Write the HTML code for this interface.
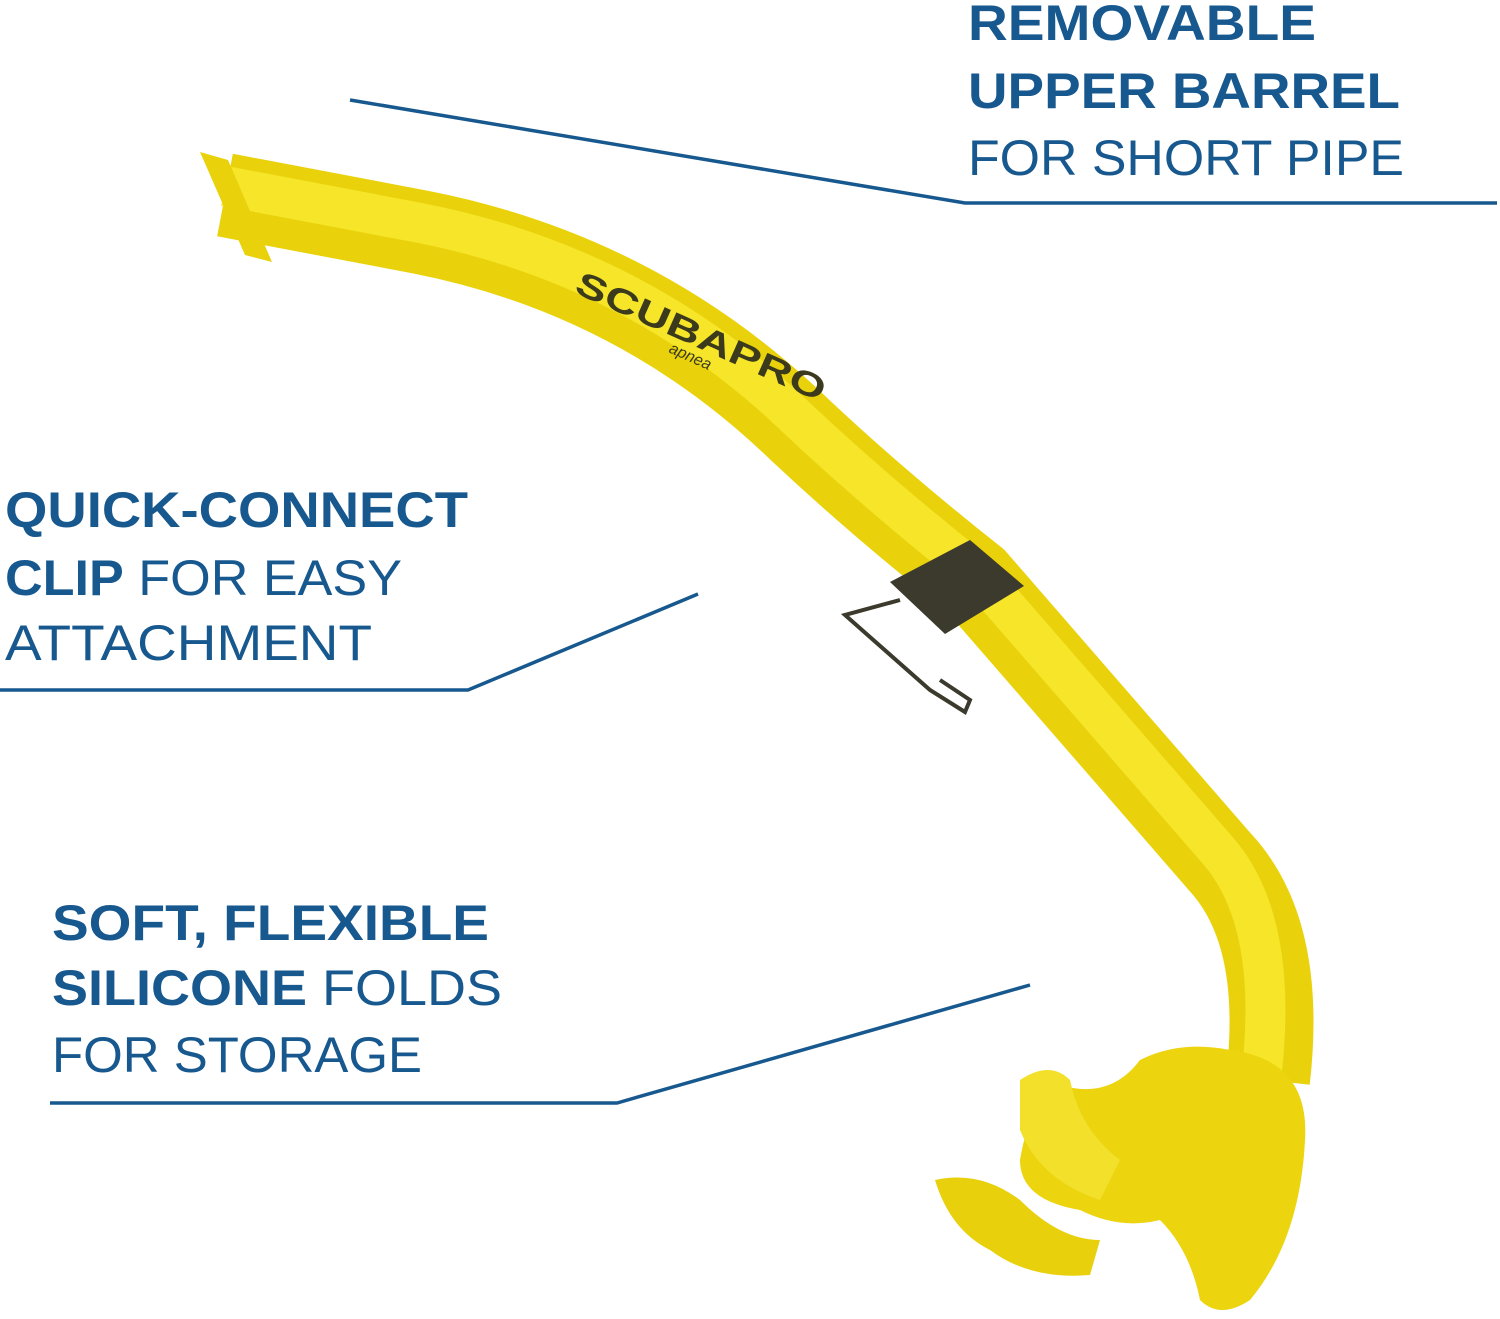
<!DOCTYPE html>
<html><head><meta charset="utf-8"><style>
html,body{margin:0;padding:0;background:#fff;}
svg{display:block;}
text{font-family:"Liberation Sans",sans-serif;fill:#17588f;}
</style></head><body>
<svg width="1500" height="1319" viewBox="0 0 1500 1319" xmlns="http://www.w3.org/2000/svg">
<rect width="1500" height="1319" fill="#fff"/>
<g stroke-linecap="butt" fill="none">
<path d="M225,195 L420,232 Q640,275 800,430 Q880,505 975,580 L1220,862 Q1285,932 1268,1080" stroke="#e9d20c" stroke-width="84"/>
<path d="M225,186 L420,223 Q640,266 800,421 Q880,496 975,571 L1220,853 Q1278,923 1262,1070" stroke="#f6e528" stroke-width="40"/>
</g>
<polygon points="200,152 245,255 272,262 228,160" fill="#e9d20c"/>
<path d="M1230,1050 Q1310,1060 1305,1140 Q1300,1240 1250,1300 Q1220,1320 1200,1300 Q1190,1250 1160,1220 Q1120,1230 1080,1210 Q1020,1200 1020,1160 Q1030,1100 1060,1085 Q1110,1100 1140,1060 Q1180,1040 1230,1050 Z" fill="#ecd40e"/>
<path d="M1020,1080 Q1050,1060 1070,1080 Q1080,1130 1120,1160 L1100,1200 Q1040,1180 1020,1130 Z" fill="#f3e02a"/>
<path d="M935,1180 Q980,1170 1020,1200 Q1060,1240 1100,1240 L1090,1275 Q1030,1280 990,1250 Q950,1230 935,1180 Z" fill="#e8d00c"/>
<polygon points="890,582 970,540 1024,586 945,634" fill="#3b3a2c"/>
<path d="M900,600 L845,615 L930,690 L965,712 L970,700 L940,680" stroke="#3b3a2c" stroke-width="4" fill="none"/>
<text x="0" y="0" transform="translate(573,292) rotate(24)" font-size="34" font-weight="bold" style="fill:#3b3a1c" textLength="270" lengthAdjust="spacingAndGlyphs">SCUBAPRO</text>
<text x="0" y="0" transform="translate(668,352) rotate(24)" font-size="16" font-style="italic" style="fill:#3b3a1c">apnea</text>
<g stroke="#17588f" stroke-width="3.5" fill="none">
<polyline points="350,100 965,203 1497,203"/>
<polyline points="0,690 468,690 698,594"/>
<polyline points="50,1103 617,1103 1030,985"/>
</g>
<text x="968" y="40" font-size="50" font-weight="bold" textLength="348" lengthAdjust="spacingAndGlyphs">REMOVABLE</text>
<text x="968" y="108" font-size="50" font-weight="bold" textLength="432" lengthAdjust="spacingAndGlyphs">UPPER BARREL</text>
<text x="968" y="175" font-size="50" textLength="436" lengthAdjust="spacingAndGlyphs">FOR SHORT PIPE</text>
<text x="5" y="527" font-size="50" font-weight="bold" textLength="463" lengthAdjust="spacingAndGlyphs">QUICK-CONNECT</text>
<text x="5" y="595" font-size="50" textLength="397" lengthAdjust="spacingAndGlyphs"><tspan font-weight="bold">CLIP</tspan> FOR EASY</text>
<text x="5" y="660" font-size="50" textLength="367" lengthAdjust="spacingAndGlyphs">ATTACHMENT</text>
<text x="52" y="940" font-size="50" font-weight="bold" textLength="437" lengthAdjust="spacingAndGlyphs">SOFT, FLEXIBLE</text>
<text x="52" y="1005" font-size="50" textLength="450" lengthAdjust="spacingAndGlyphs"><tspan font-weight="bold">SILICONE</tspan> FOLDS</text>
<text x="52" y="1072" font-size="50" textLength="370" lengthAdjust="spacingAndGlyphs">FOR STORAGE</text>
</svg>
</body></html>
